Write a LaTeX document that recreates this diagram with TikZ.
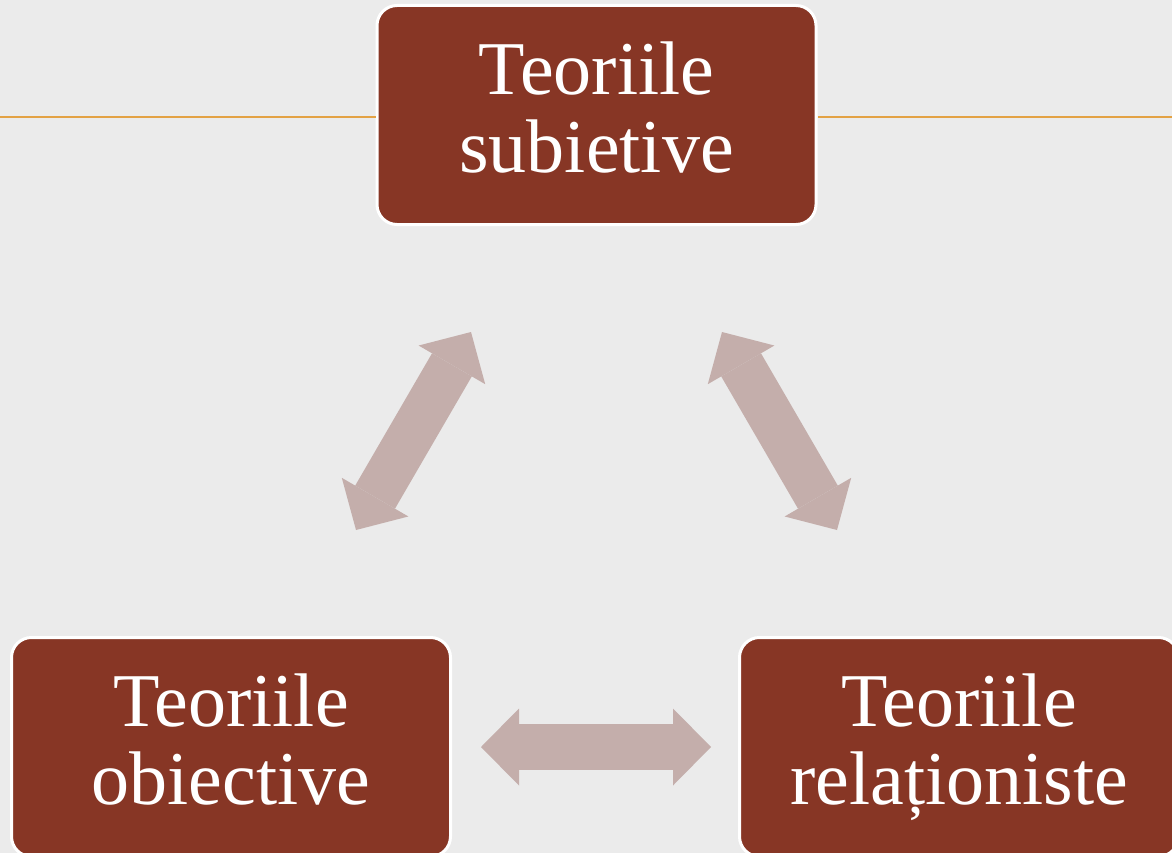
\documentclass[tikz,border=0pt]{standalone}
\usepackage{fontspec}
\setmainfont{Liberation Serif}
\usetikzlibrary{arrows.meta}
\definecolor{fundal}{RGB}{235,235,235}
\definecolor{caramiziu}{RGB}{135,54,37}
\definecolor{rozpal}{RGB}{196,174,171}
\definecolor{portocaliu}{RGB}{227,162,68}
\newcommand{\adanc}{\vphantom{ț}}
\begin{document}
\begin{tikzpicture}[x=1pt,y=-1pt,
teorie/.style={rectangle,rounded corners=20pt,draw=white,line width=3pt,fill=caramiziu,text=white,
  minimum width=439pt,minimum height=219pt,align=center,font=\fontsize{76}{78}\selectfont},
legatura/.style={draw=rozpal,line width=46pt,
  {Triangle[width=77pt,length=38pt,line width=0pt]}-{Triangle[width=77pt,length=38pt,line width=0pt]}},
linie/.style={draw=portocaliu,line width=2.5pt}]
\useasboundingbox (0,0) rectangle (1172,853);
\clip (0,0) rectangle (1172,853);
\fill[fundal] (0,0) rectangle (1172,853);

\node (subj) at (596.5,115) [teorie] {Teoriile\\subietive\adanc};
\node (obj) at (231,747) [teorie] {Teoriile\\obiective\adanc};
\node (rel) at (959,747) [teorie] {Teoriile\\relaționiste\adanc};

\coordinate (ms) at (0,117);
\coordinate (md) at (1172,117);
\coordinate (s1) at (471,332);
\coordinate (s2) at (356,530);
\coordinate (d1) at (722,332);
\coordinate (d2) at (837,530);
\coordinate (o1) at (481,747);
\coordinate (o2) at (711,747);

\draw[linie] (ms) -- (ms -| subj.west);
\draw[linie] (md) -- (md -| subj.east);
\draw[legatura] (s2) -- (s1);
\draw[legatura] (d2) -- (d1);
\draw[legatura] (o1) -- (o2);

\end{tikzpicture}
\end{document}
